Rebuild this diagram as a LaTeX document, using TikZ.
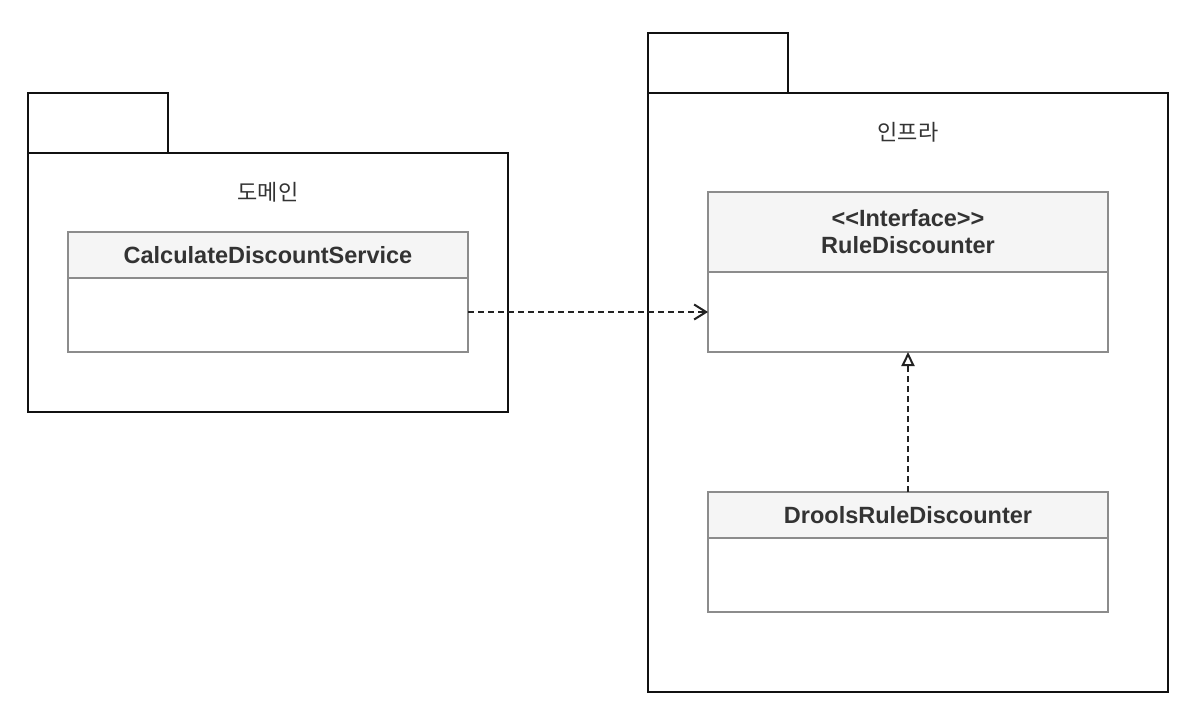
\documentclass[tikz,border=0pt]{standalone}
\usepackage{fontspec}
\setmainfont{Liberation Sans}
\newfontfamily\kr{Noto Sans CJK KR}
\usetikzlibrary{arrows.meta}
\definecolor{pkgline}{HTML}{111111}
\definecolor{clsline}{HTML}{8C8C8C}
\definecolor{clsfill}{HTML}{F5F5F5}
\definecolor{txt}{HTML}{333333}
\definecolor{arr}{HTML}{222222}
\tikzset{
  pkgshape/.style={draw=pkgline, line width=2pt, fill=white, inner sep=0pt, outer sep=0pt, anchor=north west},
  pkglabel/.style={text=txt, font=\kr\fontsize{22}{26}\selectfont, inner sep=0pt},
  classhead/.style={draw=clsline, line width=2pt, fill=clsfill, inner sep=0pt, outer sep=0pt, anchor=north west, minimum width=400pt, text=txt, font=\bfseries\fontsize{23.5}{27}\selectfont, align=center},
  classbody/.style={draw=clsline, line width=2pt, fill=white, inner sep=0pt, outer sep=0pt, anchor=north west, minimum width=400pt},
  depend/.style={draw=arr, line width=2pt, dash pattern=on 6pt off 4pt, -{Straight Barb[length=12pt, width=15pt]}},
  realize/.style={draw=arr, line width=2pt, dash pattern=on 6pt off 4pt, -{Triangle[open, length=14pt, width=13pt, fill=white]}}
}
\begin{document}
\begin{tikzpicture}[x=1pt, y=-1pt]
\useasboundingbox[fill=white] (0,0) rectangle (1190,715);
% left package
\node[pkgshape, minimum width=140pt, minimum height=60pt] (ltab) at (28,93) {};
\node[pkgshape, minimum width=480pt, minimum height=259pt] (lpkg) at (28,153) {};
\node[pkglabel] (llabel) at (268,192) {도메인};
% right package
\node[pkgshape, minimum width=140pt, minimum height=60pt] (rtab) at (648,33) {};
\node[pkgshape, minimum width=520pt, minimum height=599pt] (rpkg) at (648,93) {};
\node[pkglabel] (rlabel) at (908,132) {인프라};
% CalculateDiscountService
\node[classbody, minimum height=74pt] (cdsb) at (68,278) {};
\node[classhead, minimum height=46pt] (cdsh) at (68,232) {\raisebox{-2pt}{CalculateDiscountService}};
% RuleDiscounter
\node[classbody, minimum height=80pt] (rdb) at (708,272) {};
\node[classhead, minimum height=80pt] (rdh) at (708,192) {{<}{<}Interface{>}{>}\\RuleDiscounter};
% DroolsRuleDiscounter
\node[classbody, minimum height=74pt] (drdb) at (708,538) {};
\node[classhead, minimum height=46pt] (drdh) at (708,492) {\raisebox{-2pt}{DroolsRuleDiscounter}};
% connectors
\draw[depend] (cdsb.east |- rdb.west) -- (rdb.west);
\draw[realize] (drdh.north) -- (rdb.south);
\end{tikzpicture}
\end{document}
